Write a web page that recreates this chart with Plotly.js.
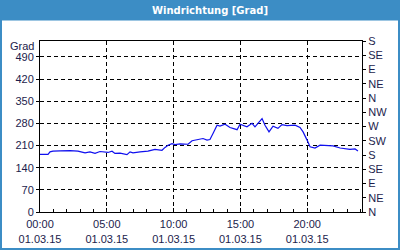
<!DOCTYPE html>
<html>
<head>
<meta charset="utf-8">
<script src="https://cdn.plot.ly/plotly-3.0.1.min.js"></script>
<style>html,body{margin:0;padding:0;background:#fff;}#chart{width:400px;height:250px;}</style>
</head>
<body>
<div id="chart"></div>
<script>
// hours since 00:00 on 01.03.15
const hours = [0, 0.6, 0.75, 0.97, 1.5, 2.25, 2.84, 3.37, 3.74, 4.12, 4.49, 5.09, 5.39, 5.61, 5.99, 6.51, 6.74, 6.96, 7.49, 8.08, 8.61, 9.13, 9.36, 9.58, 9.88, 10.1, 10.48, 11.08, 11.38, 11.75, 12.2, 12.5, 12.72, 12.95, 13.25, 13.47, 13.85, 14.22, 14.75, 14.97, 15.49, 15.87, 16.09, 16.62, 16.84, 17.14, 17.44, 17.81, 18.11, 18.49, 19.09, 19.46, 19.69, 19.99, 20.21, 20.58, 20.96, 21.93, 22.46, 23.2, 23.58, 23.8];
const direction = [182, 182, 190, 192, 193, 194, 192, 187, 190, 185, 191, 188, 192, 185, 186, 181, 190, 187, 190, 192, 198, 195, 204, 211, 216, 213, 215, 214, 225, 229, 232, 227, 229, 248, 274, 271, 277, 267, 260, 277, 269, 280, 269, 295, 274, 253, 271, 264, 276, 273, 274, 267, 253, 227, 206, 202, 211, 209, 202, 198, 199, 193];
const xTickVals = [0, 5, 10, 15, 20];
const xTickText = ["00:00<br>01.03.15", "05:00<br>01.03.15", "10:00<br>01.03.15", "15:00<br>01.03.15", "20:00<br>01.03.15"];
const yTickVals = [0, 70, 140, 210, 280, 350, 420, 490];
const compassVals = [0, 45, 90, 135, 180, 225, 270, 315, 360, 405, 450, 495, 540];
const compassText = ["N", "NE", "E", "SE", "S", "SW", "W", "NW", "N", "NE", "E", "SE", "S"];
const chartTitle = "Windrichtung [Grad]";
const unitLabel = "Grad";

const W = 400, H = 250, L = 40, R = 38, T = 41, B = 38;
const pw = W - L - R, ph = H - T - B;
const px = v => (v - L) / pw;
const py = v => (H - B - v) / ph;
const blue = "#3c8dc5";
const tickFont = {family: "Liberation Sans, Arial, sans-serif", size: 11, color: "#1c1c4c"};

const traces = [
  {x: hours, y: direction, type: "scatter", mode: "lines", line: {color: "#1010ee", width: 1.2}, hoverinfo: "skip", showlegend: false},
  {x: hours, y: direction, type: "scatter", mode: "lines", yaxis: "y2", line: {width: 0}, opacity: 0, hoverinfo: "skip", showlegend: false}
];

const layout = {
  width: W, height: H,
  margin: {l: L, r: R, t: T, b: B, pad: 0},
  paper_bgcolor: "#ffffff",
  plot_bgcolor: "#ffffff",
  showlegend: false,
  title: {text: chartTitle, font: {family: "DejaVu Sans, sans-serif", size: 10, color: "#ffffff", weight: "bold"}, x: 210 / W, xref: "container", xanchor: "center", y: 1 - 10.5 / H, yref: "container", yanchor: "middle"},
  xaxis: {
    range: [0, 24.1], tickmode: "array", tickvals: xTickVals, ticktext: xTickText,
    ticks: "inside", ticklen: 4, tickcolor: "#000", tickfont: tickFont, ticklabelstandoff: 2,
    showline: true, linecolor: "#000", linewidth: 1, mirror: true,
    showgrid: true, gridcolor: "#000", griddash: "4px,3px", gridwidth: 1,
    zeroline: false, fixedrange: true,
    minor: {dtick: 1, tick0: 0, ticks: "inside", ticklen: 3, tickcolor: "#000", showgrid: false}
  },
  yaxis: {
    range: [0, 540], tickmode: "array", tickvals: yTickVals,
    ticks: "outside", ticklen: 3, tickcolor: "#000", tickfont: tickFont,
    showline: true, linecolor: "#000", linewidth: 1, mirror: true,
    showgrid: true, gridcolor: "#000", griddash: "4px,3px", gridwidth: 1,
    zeroline: false, fixedrange: true
  },
  yaxis2: {
    range: [0, 540], overlaying: "y", side: "right", tickmode: "array", tickvals: compassVals, ticktext: compassText,
    ticks: "outside", ticklen: 3, tickcolor: "#000", tickfont: tickFont,
    showline: false, showgrid: false, zeroline: false, fixedrange: true
  },
  shapes: [
    {type: "rect", xref: "paper", yref: "paper", x0: px(0), x1: px(W), y0: py(20.5), y1: py(0), fillcolor: blue, line: {width: 0}, layer: "below"},
    {type: "rect", xref: "paper", yref: "paper", x0: px(1), x1: px(W - 1), y0: py(H - 1), y1: py(1), fillcolor: "rgba(0,0,0,0)", line: {color: blue, width: 2}, layer: "below"}
  ],
  annotations: [
    {text: unitLabel, xref: "paper", yref: "paper", x: px(36), y: py(46), xanchor: "right", yanchor: "middle", showarrow: false, font: tickFont}
  ]
};

Plotly.newPlot("chart", traces, layout, {displayModeBar: false, staticPlot: true});
</script>
</body>
</html>
